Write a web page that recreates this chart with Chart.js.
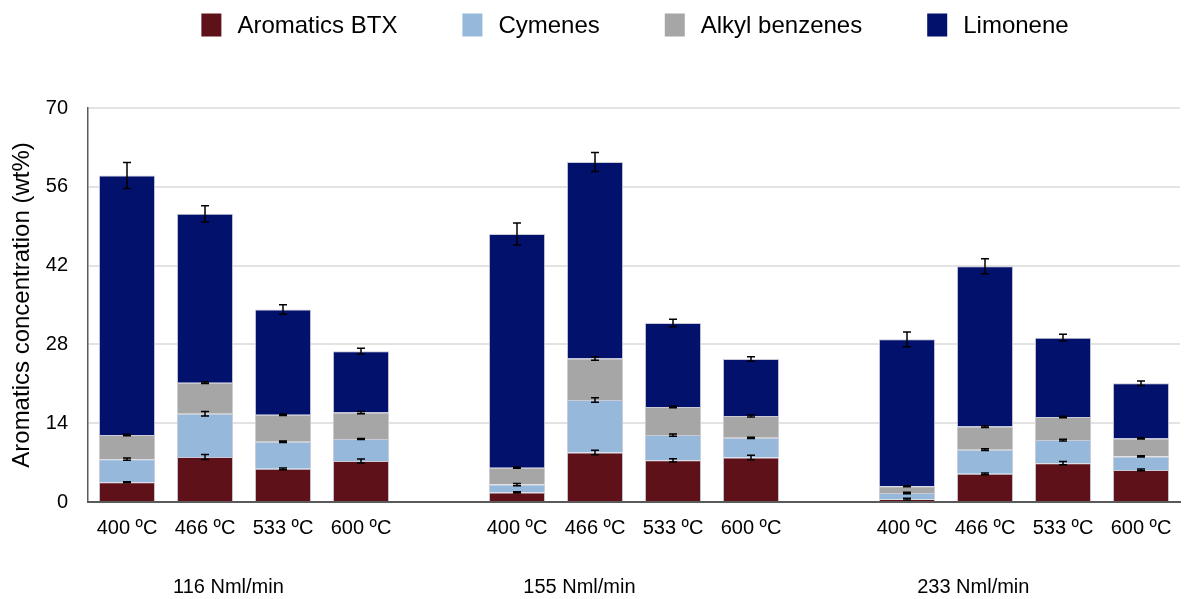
<!DOCTYPE html>
<html lang="en">
<head>
    <meta charset="UTF-8">
    <title>Aromatics concentration</title>
    <style>
        body {
            margin: 0;
            padding: 0;
            background-color: #fff;
        }

        .chart-container {
            width: 1186px;
            height: 599px;
        }
    </style>
</head>
<body>
    <div class="chart-container">
        <canvas id="aromaticsChart"></canvas>
    </div>

    <script src="https://cdn.jsdelivr.net/npm/chart.js"></script>
    <script>
        // tick labels (empty slots separate the flow-rate groups)
        const temperatures = ['400 ºC', '466 ºC', '533 ºC', '600 ºC', '',
                              '400 ºC', '466 ºC', '533 ºC', '600 ºC', '',
                              '400 ºC', '466 ºC', '533 ºC', '600 ºC'];
        const flowRates = ['116 Nml/min', '155 Nml/min', '233 Nml/min'];

        // wt% per fraction
        const btx      = [3.5, 8.0, 5.9, 7.3, null, 1.7, 8.8, 7.4, 7.9, null, 0.5, 5.0, 6.9, 5.7];
        const cymenes  = [4.1, 7.7, 4.8, 3.9, null, 1.4, 9.3, 4.5, 3.5, null, 1.1, 4.3, 4.1, 2.4];
        const alkyl    = [4.3, 5.5, 4.8, 4.7, null, 3.0, 7.4, 5.0, 3.9, null, 1.2, 4.1, 4.1, 3.2];
        const limonene = [46.1, 30.0, 18.7, 10.9, null, 41.5, 34.9, 14.9, 10.1, null, 26.1, 28.5, 14.1, 9.8];

        // error bars (+/- wt%)
        const btxErr      = [0.1, 0.45, 0.15, 0.35, null, 0.1, 0.4, 0.3, 0.4, null, 0.15, 0.15, 0.3, 0.15];
        const cymenesErr  = [0.2, 0.4, 0.15, 0.1, null, 0.2, 0.4, 0.2, 0.1, null, 0.15, 0.15, 0.15, 0.1];
        const alkylErr    = [0.15, 0.15, 0.15, 0.2, null, 0.1, 0.3, 0.15, 0.2, null, 0.1, 0.15, 0.15, 0.1];
        const limoneneErr = [2.3, 1.45, 0.85, 0.5, null, 1.95, 1.7, 0.65, 0.4, null, 1.3, 1.33, 0.6, 0.4];

        const FONT = '"Liberation Sans", Arial, sans-serif';

        // error bar on top of each stacked segment
        const errorBars = {
            id: 'errorBars',
            afterDatasetsDraw(chart) {
                const ctx = chart.ctx;
                const y = chart.scales.y;
                ctx.save();
                ctx.strokeStyle = '#000';
                ctx.lineWidth = 1.5;
                chart.data.datasets.forEach((ds, d) => {
                    const meta = chart.getDatasetMeta(d);
                    meta.data.forEach((bar, i) => {
                        if (ds.data[i] == null) return;
                        let top = 0;
                        for (let k = 0; k <= d; k++) top += chart.data.datasets[k].data[i];
                        const e = ds.errors[i];
                        const y1 = y.getPixelForValue(top + e);
                        const y2 = y.getPixelForValue(top - e);
                        ctx.beginPath();
                        ctx.moveTo(bar.x, y1);
                        ctx.lineTo(bar.x, y2);
                        ctx.moveTo(bar.x - 4, y1);
                        ctx.lineTo(bar.x + 4, y1);
                        ctx.moveTo(bar.x - 4, y2);
                        ctx.lineTo(bar.x + 4, y2);
                        ctx.stroke();
                    });
                });
                ctx.restore();
            }
        };

        // legend row and flow-rate captions
        const extraText = {
            id: 'extraText',
            afterDraw(chart) {
                const ctx = chart.ctx;
                const area = chart.chartArea;
                ctx.save();
                ctx.fillStyle = '#000';
                ctx.textBaseline = 'middle';

                // legend
                ctx.font = '24px ' + FONT;
                const boxW = 20, boxH = 23, textGap = 16, itemGap = 65;
                const items = chart.data.datasets.map(ds => ({
                    label: ds.label, color: ds.backgroundColor,
                    w: boxW + textGap + ctx.measureText(ds.label).width
                }));
                const total = items.reduce((s, it) => s + it.w, 0) + itemGap * (items.length - 1);
                let x = (area.left + area.right) / 2 - total / 2 + 1;
                const ly = 25;
                items.forEach(it => {
                    ctx.fillStyle = it.color;
                    ctx.fillRect(x, ly - boxH / 2, boxW, boxH);
                    ctx.fillStyle = '#000';
                    ctx.textAlign = 'left';
                    ctx.fillText(it.label, x + boxW + textGap, ly + 1);
                    x += it.w + itemGap;
                });

                // group captions under the temperatures
                ctx.font = '20px ' + FONT;
                ctx.textAlign = 'center';
                const at = [1.3, 5.8, 10.85];
                flowRates.forEach((txt, g) => {
                    ctx.fillText(txt, chart.scales.x.getPixelForValue(at[g]), area.bottom + 85);
                });
                ctx.restore();
            }
        };

        const ctx = document.getElementById('aromaticsChart').getContext('2d');
        new Chart(ctx, {
            type: 'bar',
            data: {
                labels: temperatures,
                datasets: [
                    { label: 'Aromatics BTX', data: btx, errors: btxErr, backgroundColor: '#5e1119' },
                    { label: 'Cymenes', data: cymenes, errors: cymenesErr, backgroundColor: '#95b8db' },
                    { label: 'Alkyl benzenes', data: alkyl, errors: alkylErr, backgroundColor: '#a6a6a6' },
                    { label: 'Limonene', data: limonene, errors: limoneneErr, backgroundColor: '#02116c' }
                ]
            },
            options: {
                responsive: true,
                maintainAspectRatio: false,
                animation: false,
                datasets: {
                    bar: {
                        categoryPercentage: 1,
                        barPercentage: 0.72,
                        borderColor: '#c9cad6',
                        borderWidth: 1
                    }
                },
                layout: {
                    padding: { top: 108, left: 8, right: 6, bottom: 45 }
                },
                plugins: {
                    legend: { display: false },
                    tooltip: { enabled: false }
                },
                scales: {
                    x: {
                        stacked: true,
                        grid: { display: false, drawTicks: false },
                        border: { display: true, color: '#5a5a5a', width: 2 },
                        ticks: {
                            color: '#000',
                            padding: 14,
                            maxRotation: 0,
                            autoSkip: false,
                            font: { family: FONT, size: 20 }
                        }
                    },
                    y: {
                        stacked: true,
                        min: 0,
                        max: 70,
                        afterFit(scale) { scale.width = 80; },
                        grid: { color: '#e3e3e3', lineWidth: 2, drawTicks: false },
                        border: { display: true, color: '#5a5a5a', width: 1.5 },
                        ticks: {
                            stepSize: 14,
                            color: '#000',
                            padding: 20,
                            font: { family: FONT, size: 20 }
                        },
                        title: {
                            display: true,
                            text: 'Aromatics concentration (wt%)',
                            color: '#000',
                            padding: { top: 0, bottom: 6 },
                            font: { family: FONT, size: 24 }
                        }
                    }
                }
            },
            plugins: [errorBars, extraText]
        });
    </script>
</body>
</html>
